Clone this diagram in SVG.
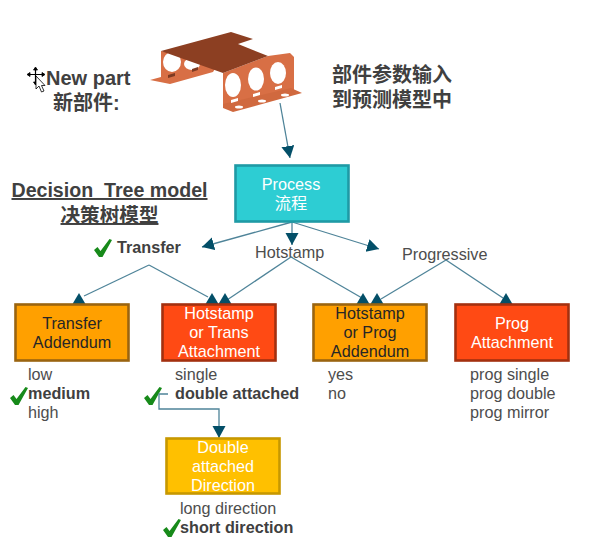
<svg xmlns="http://www.w3.org/2000/svg" width="592" height="543" viewBox="0 0 592 543">
<style>
text{font-family:"Liberation Sans","Noto Sans CJK SC",sans-serif;fill:#4d4d4d;font-size:16.200px;white-space:pre}
.b{font-weight:700;fill:#404040}
.h{font-weight:700;font-size:20px;fill:#404040}
.t{font-size:19.600px}
.m{text-anchor:middle}
.w{fill:#fff}
.k{fill:#262626}
.c{stroke:#4f8499;stroke-width:1.300;fill:none}
.ck{fill:#178a1a}
.box{stroke-width:2.600}
.head{fill:#034f68}
</style>
<defs>
<marker id="a" markerUnits="userSpaceOnUse" markerWidth="14" markerHeight="14" refX="12" refY="6.500" orient="auto"><path d="M0 0L12 6.500L0 13Z" fill="#034f68"/></marker>
<path id="check" d="M0 8L3.500 5L6.500 9L15.500 -3L18 -2L8.500 15L5 15Z"/>
<path id="up" d="M0 -11L6.500 0H-6.500Z"/>
</defs>
<g id="part">
<path d="M161 51L161 77L150 80L170 84L213 72L218 64L205 60Z" fill="#d86f45"/>
<ellipse cx="172" cy="62" rx="9" ry="10" fill="#fff"/><ellipse cx="192" cy="64" rx="8" ry="6" fill="#fff"/>
<path d="M168 75l7-2v3l-7 2z" fill="#7d3a22"/><path d="M192 69l6-2v3l-6 2z" fill="#7d3a22"/>
<path d="M223 73L268 56L290 53L294 57L294 92L223 108Z" fill="#d86f45"/>
<path d="M161 51L231 32L253 39L238 44L268 56L223 73Z" fill="#8c3f22"/>
<path d="M223 108L233 112L302 93L291 88L223 104Z" fill="#d0693f"/>
<ellipse cx="233" cy="85" rx="8" ry="12" fill="#fff"/><ellipse cx="256" cy="79" rx="8" ry="11.500" fill="#fff"/><ellipse cx="278" cy="73" rx="8" ry="11" fill="#fff"/>
<path d="M231 100l7-2v3l-7 2zM253 94l7-2v3l-7 2zM275 87l7-2v3l-7 2z" fill="#fff"/>
<ellipse cx="239" cy="107" rx="4" ry="1.500" fill="#fff"/><ellipse cx="262" cy="101" rx="4" ry="1.500" fill="#fff"/><ellipse cx="285" cy="95" rx="4" ry="1.500" fill="#fff"/>
</g>
<g id="cursor" fill="#fff" stroke="#000" stroke-width="0.800">
<path d="M35.500 68V84M28 74.500H44" fill="none" stroke-width="1.200"/>
<path d="M35.500 67l2 3h-4zM35.500 85l-2-3h4zM27 74.500l3-2v4zM45 74.500l-3-2v4z" fill="#000"/>
<path d="M36 76V89L39 86L41.500 92L44 91L41.500 85.500L45 85.500Z"/>
</g>
<g id="labels">
<text class="h" x="46" y="85">New part</text>
<text class="h" x="53" y="110">新部件:</text>
<text class="h" x="332" y="82">部件参数输入</text>
<text class="h" x="332" y="107">到预测模型中</text>
<text class="h t m" x="109.500" y="197" text-decoration="underline">Decision  Tree model</text>
<text class="h t m" x="109.500" y="222" text-decoration="underline">决策树模型</text>
<text class="b" x="117" y="253">Transfer</text>
<text x="255" y="258">Hotstamp</text>
<text x="402" y="260">Progressive</text>
<text x="28" y="380">low</text>
<text class="b" x="28" y="399">medium</text>
<text x="28" y="418">high</text>
<text x="175" y="380">single</text>
<text class="b" x="175" y="399">double attached</text>
<text x="328" y="380">yes</text>
<text x="328" y="399">no</text>
<text x="470" y="380">prog single</text>
<text x="470" y="399">prog double</text>
<text x="470" y="418">prog mirror</text>
<text x="180" y="514">long direction</text>
<text class="b" x="180" y="533">short direction</text>
</g>
<g id="checks" class="ck">
<use href="#check" x="94" y="242"/>
<use href="#check" x="10" y="390"/>
<use href="#check" x="144" y="390"/>
<use href="#check" x="163" y="522"/>
</g>
<g id="connectors">
<g class="c">
<path marker-end="url(#a)" d="M280 103L290 158"/>
<path marker-end="url(#a)" d="M292 222L202 247"/>
<path marker-end="url(#a)" d="M292 222V245"/>
<path marker-end="url(#a)" d="M292 222L379 249"/>
<path d="M149 265L84 296"/>
<path d="M149 265L208 297"/>
<path d="M291 257L227 300"/>
<path d="M291 257L362 298"/>
<path d="M446 260L381 299"/>
<path d="M446 260L503 298"/>
<path marker-end="url(#a)" d="M168 394H159V409H219V438"/>
</g>
<g class="head">
<use href="#up" x="79" y="304"/>
<use href="#up" x="212" y="304"/>
<use href="#up" x="225" y="304"/>
<use href="#up" x="363" y="304"/>
<use href="#up" x="377" y="304"/>
<use href="#up" x="506" y="304"/>
</g>
</g>
<g id="process"><rect class="box" x="235.500" y="165.500" width="113" height="56" fill="#2dcdd3" stroke="#1f9aa5"/>
<text class="m w" x="291" y="190">Process</text><text class="m w" x="291" y="209">流程</text></g>
<g id="transfer-addendum"><rect class="box" x="15.500" y="304.500" width="113" height="56" fill="#ffa000" stroke="#9a6410"/>
<text class="m k" x="72" y="329">Transfer</text><text class="m k" x="72" y="348">Addendum</text></g>
<g id="hotstamp-trans"><rect class="box" x="162.500" y="304.500" width="113" height="56" fill="#ff4a14" stroke="#a3300f"/>
<text class="m w" x="219" y="319">Hotstamp</text><text class="m w" x="219" y="338">or Trans</text><text class="m w" x="219" y="357">Attachment</text></g>
<g id="hotstamp-prog"><rect class="box" x="313.500" y="304.500" width="113" height="56" fill="#ffa000" stroke="#9a6410"/>
<text class="m k" x="370" y="319">Hotstamp</text><text class="m k" x="370" y="338">or Prog</text><text class="m k" x="370" y="357">Addendum</text></g>
<g id="prog-attachment"><rect class="box" x="455.500" y="304.500" width="113" height="56" fill="#ff4a14" stroke="#a3300f"/>
<text class="m w" x="512" y="329">Prog</text><text class="m w" x="512" y="348">Attachment</text></g>
<g id="double-direction"><rect class="box" x="166.500" y="438.500" width="113" height="55" fill="#ffc000" stroke="#c79800"/>
<text class="m w" x="223" y="453">Double</text><text class="m w" x="223" y="472">attached</text><text class="m w" x="223" y="491">Direction</text></g>
</svg>
